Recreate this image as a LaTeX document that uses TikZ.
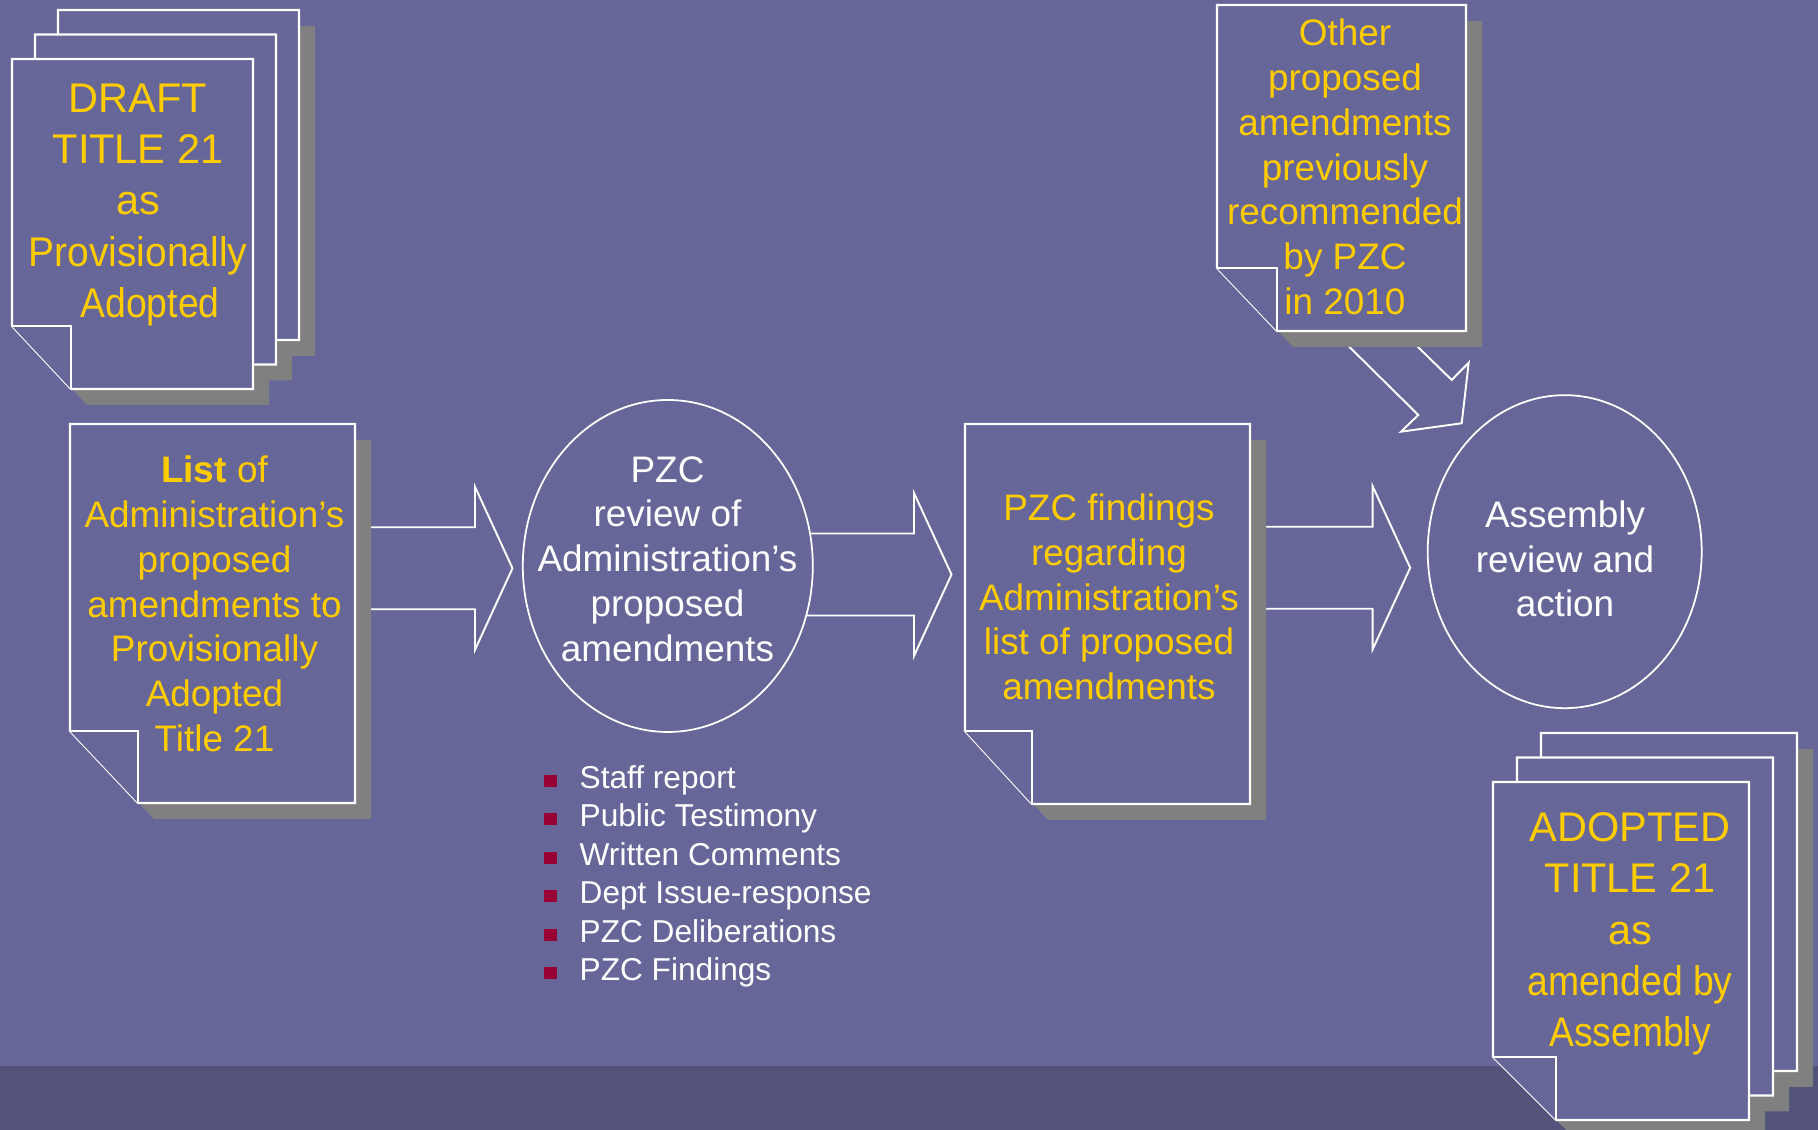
\documentclass[tikz,border=0pt]{standalone}
\usepackage{fontspec}
\setmainfont{Liberation Sans}
\usepackage{graphicx}
\usepackage{tikz}
\usetikzlibrary{shapes.geometric}
\definecolor{slate}{RGB}{102,102,153}
\definecolor{slatedark}{RGB}{82,82,122}
\definecolor{gold}{RGB}{255,204,0}
\definecolor{shadowgray}{RGB}{128,128,128}
\definecolor{bulletred}{RGB}{153,0,51}
\newcommand{\docpages}{0.58/7.90/2.41/3.30/0.59/0.63, 0.35/7.655/2.41/3.30/0.59/0.63, 0.12/7.41/2.41/3.30/0.59/0.63,
0.70/3.27/2.85/3.79/0.68/0.72, 9.65/3.26/2.85/3.80/0.67/0.73, 12.17/7.99/2.49/3.26/0.60/0.63,
15.41/0.59/2.56/3.38/0.63/0.63, 15.17/0.345/2.56/3.38/0.63/0.63, 14.93/0.10/2.56/3.38/0.63/0.63}

\begin{document}
\begin{tikzpicture}[
  page/.style={draw=white, line width=0.6pt, fill=slate},
  blockarrow/.style={draw=white, line width=0.55pt, fill=slate, line join=miter},
  bubble/.style={ellipse, draw=white, line width=0.5pt, fill=slate, inner sep=0pt},
  doctext/.style={text=gold, align=center, font=\fontsize{10.5}{12.75}\selectfont},
  bigtext/.style={text=gold, align=center, font=\fontsize{11.8}{14.6}\selectfont},
  bubbletext/.style={text=white, align=center, font=\fontsize{10.5}{12.75}\selectfont},
  itemtext/.style={text=white, anchor=base west, inner sep=0pt, font=\fontsize{9}{11}\selectfont}
]
\useasboundingbox (0,0) rectangle (18.18,11.30);
\clip (0,0) rectangle (18.18,11.30);
\fill[slate] (0,0) rectangle (18.18,11.30);
\fill[slatedark] (0,0) rectangle (18.18,0.64);

\foreach \xa/\xb/\yc in {3.60/4.75/5.617, 7.90/9.14/5.555, 12.60/13.727/5.622}
  \draw[blockarrow] (\xa,\yc+0.41) -- (\xb,\yc+0.41) -- (\xb,\yc+0.815) -- (\xb+0.375,\yc) -- (\xb,\yc-0.815) -- (\xb,\yc-0.41) -- (\xa,\yc-0.41) -- cycle;
\draw[blockarrow] (13.383,7.94) -- (14.183,7.15) -- (14.01,6.983) -- (14.617,7.067) -- (14.687,7.673) -- (14.517,7.50) -- (14.067,7.94) -- cycle;

\foreach \px/\py/\pw/\ph/\fx/\fy in \docpages
  \fill[shadowgray, shift={(0.16,-0.16)}] (\px,\py+\fy) -- (\px,\py+\ph) -- (\px+\pw,\py+\ph) -- (\px+\pw,\py) -- (\px+\fx,\py) -- cycle;
\foreach \px/\py/\pw/\ph/\fx/\fy in \docpages {
  \draw[page] (\px,\py+\fy) -- (\px,\py+\ph) -- (\px+\pw,\py+\ph) -- (\px+\pw,\py) -- (\px+\fx,\py) -- cycle;
  \draw[page] (\px,\py+\fy) -- (\px+\fx,\py+\fy) -- (\px+\fx,\py);
}

\node[bubble, minimum width=2.90cm, minimum height=3.32cm] (review) at (6.678,5.64) {};
\node[bubble, minimum width=2.74cm, minimum height=3.13cm] (assembly) at (15.647,5.783) {};

\node[bigtext] (draft) at (1.38,9.25) {DRAFT\\TITLE 21\\as\\\scalebox{0.94}[1]{Provisionally}\\\hspace*{0.24cm}\scalebox{0.9}[1]{Adopted}};
\node[doctext] (list) at (2.145,5.26) {\textbf{List} of\\Administration’s\\proposed\\amendments to\\Provisionally\\Adopted\\Title 21};
\node[bubbletext] (reviewtext) at (6.675,5.71) {PZC\\review of\\Administration’s\\proposed\\amendments};
\node[doctext] (findings) at (11.09,5.33) {PZC findings\\regarding\\Administration’s\\list of proposed\\amendments};
\node[doctext] (other) at (13.45,9.63) {Other\\proposed\\amendments\\previously\\recommended\\by PZC\\in 2010};
\node[bubbletext] (assemblytext) at (15.65,5.71) {Assembly\\review and\\action};
\node[bigtext] (adopted) at (16.30,1.96) {ADOPTED\\TITLE 21\\as\\\scalebox{0.9}[1]{amended by}\\\scalebox{0.9}[1]{Assembly}};

\foreach \entry [count=\i] in {Staff report, Public Testimony, Written Comments, Dept Issue-response, PZC Deliberations, PZC Findings} {
  \fill[bulletred] (5.44,{3.818-0.385*\i}) rectangle ++(0.13,0.12);
  \node[itemtext] (item\i) at (5.79,{3.80-0.385*\i}) {\entry};
}
\end{tikzpicture}
\end{document}
